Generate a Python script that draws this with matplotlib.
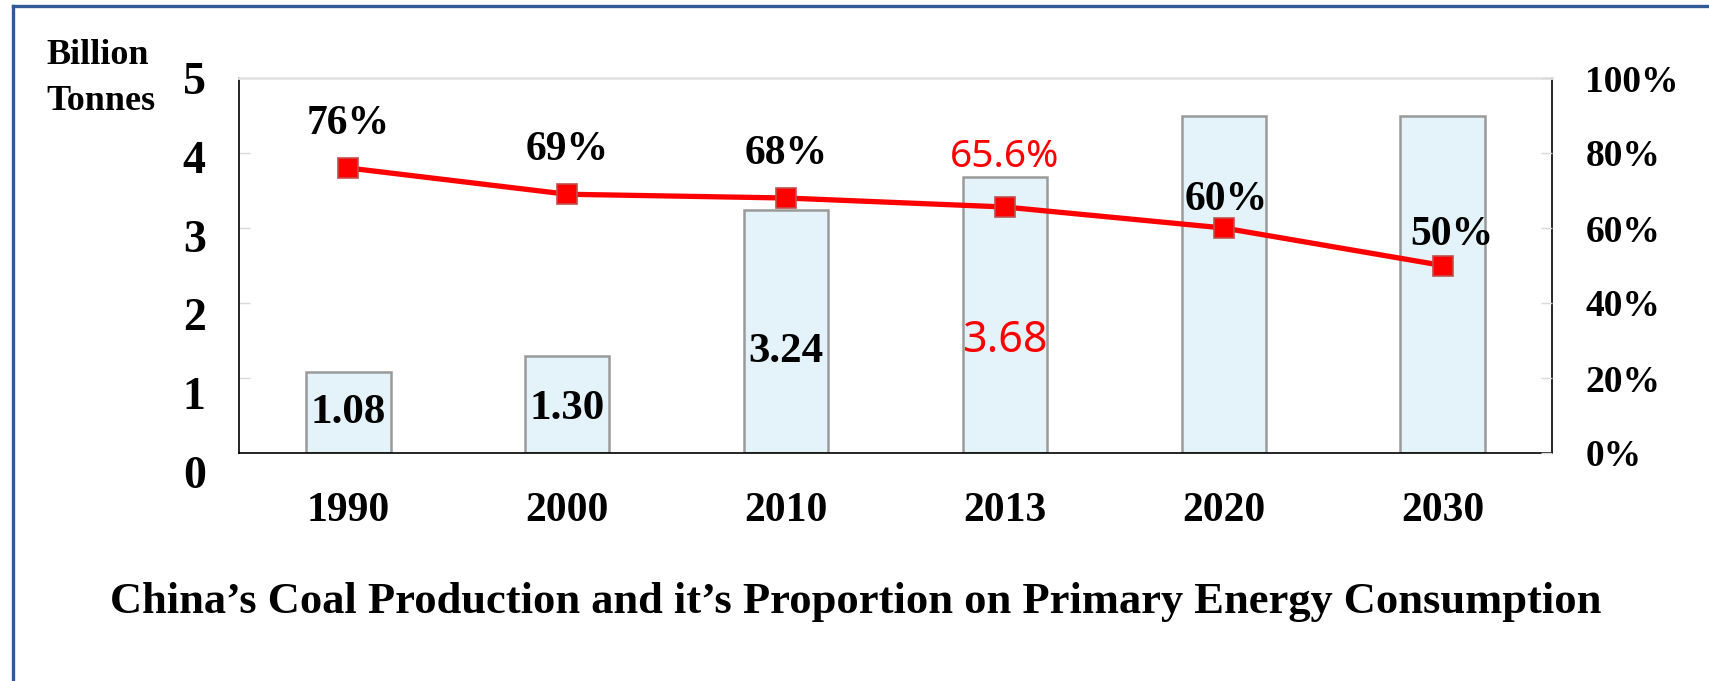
import matplotlib
matplotlib.use("Agg")
import matplotlib.pyplot as plt
from matplotlib.lines import Line2D
from matplotlib.ticker import FuncFormatter

# ---- data ----
years = ["1990", "2000", "2010", "2013", "2020", "2030"]
production = [1.08, 1.30, 3.24, 3.68, 4.5, 4.5]          # billion tonnes
share = [0.76, 0.69, 0.68, 0.656, 0.60, 0.50]           # share of primary energy
bar_texts = ["1.08", "1.30", "3.24", "3.68"]
share_texts = ["76%", "69%", "68%", "65.6%", "60%", "50%"]
left_ticks = [0, 1, 2, 3, 4, 5]
right_ticks = [0, 0.2, 0.4, 0.6, 0.8, 1.0]

# ---- layout / style ----
W, H, DPI = 1709, 681, 100
serif = ["Liberation Serif", "DejaVu Serif"]
sans = ["Noto Sans", "DejaVu Sans"]
highlight = "2013"
bar_label_y = [0.53, 0.59, 1.35, 1.49]          # label centre heights (layout)
share_offsets = [(0, 32), (0, 32), (0, 32), (0, 36), (2, 20), (7, 22)]  # points

fig = plt.figure(figsize=(W / DPI, H / DPI), dpi=DPI)
fig.patch.set_facecolor("white")

# frame lines (left and top)
blue = "#2E5A96"
fig.add_artist(Line2D([13 / W, 13 / W], [0, 1 - 6 / H], color=blue, lw=2.4,
                      transform=fig.transFigure))
fig.add_artist(Line2D([13 / W, 1], [1 - 6 / H, 1 - 6 / H], color=blue, lw=2.4,
                      transform=fig.transFigure))

x0, x1 = 239 / W, 1552 / W
y0, y1 = 1 - 453 / H, 1 - 78 / H
ax = fig.add_axes([x0, y0, x1 - x0, y1 - y0])
ax2 = ax.twinx()

xs = list(range(len(years)))
ax.bar(xs, production, width=0.385, color="#E4F3F9", edgecolor="#9A9A9A",
       linewidth=1.8, zorder=2)
ax.set_xlim(-0.5, len(years) - 0.5)
ax.set_ylim(0, 5)

ax.set_xticks(xs)
ax.set_xticklabels(years, fontfamily=serif, fontweight="bold", fontsize=30)
ax.tick_params(axis="x", length=0, pad=28)
ax.set_yticks([1, 2, 3, 4])
ax.tick_params(axis="y", direction="in", length=8, width=1, color="#D9D9D9",
               labelleft=False)

for s in ["left", "right", "bottom"]:
    ax.spines[s].set_color("black")
    ax.spines[s].set_linewidth(1.2)
ax.spines["top"].set_color("#E3E3E3")
ax.spines["top"].set_linewidth(2)
for s in ax2.spines.values():
    s.set_visible(False)

# line on secondary axis
ax2.set_ylim(0, 1)
ax2.plot(xs, share, color="#FF0000", lw=3.8, marker="s", markersize=14,
         markerfacecolor="#FF0000", markeredgecolor="#C0504D",
         markeredgewidth=1.2, zorder=5)
ax2.set_yticks(right_ticks)
ax2.yaxis.set_major_formatter(FuncFormatter(lambda v, p: f"{v * 100:.0f}%"))
ax2.tick_params(axis="y", direction="in", length=8, width=1, color="#D9D9D9",
                pad=24)
for t in ax2.get_yticklabels():
    t.set_fontfamily(serif)
    t.set_fontweight("bold")
    t.set_fontsize(27)

# left tick labels on a separate invisible axis
lab = fig.add_axes([x0, 1 - 472 / H, 0.001, (472 - 78) / H])
lab.set_ylim(0, 5)
lab.set_yticks(left_ticks)
lab.set_yticklabels([str(v) for v in left_ticks], fontfamily=serif,
                    fontweight="bold", fontsize=33)
lab.tick_params(axis="y", length=0, pad=24)
lab.set_xticks([])
for s in lab.spines.values():
    s.set_visible(False)
lab.patch.set_alpha(0)

# share labels
for i, (v, t) in enumerate(zip(share, share_texts)):
    red = years[i] == highlight
    ax2.annotate(t, (xs[i], v), xytext=share_offsets[i], textcoords="offset points",
                 ha="center", va="center",
                 fontfamily=sans if red else serif,
                 fontweight="normal" if red else "bold",
                 fontsize=28 if red else 30,
                 color="#FF0000" if red else "black", zorder=6)

# bar labels
for i, t in enumerate(bar_texts):
    red = years[i] == highlight
    ax.text(xs[i], bar_label_y[i], t, ha="center", va="center",
            fontfamily=sans if red else serif,
            fontweight="normal" if red else "bold",
            fontsize=31,
            color="#FF0000" if red else "black", zorder=6)

# unit label
fig.text(46 / W, 1 - 56 / H, "Billion", fontfamily=serif, fontweight="bold",
         fontsize=26, ha="left", va="center")
fig.text(46 / W, 1 - 101 / H, "Tonnes", fontfamily=serif, fontweight="bold",
         fontsize=26, ha="left", va="center")

# caption
fig.text(856 / W, 1 - 602 / H,
         "China\u2019s Coal Production and it\u2019s Proportion on Primary Energy Consumption",
         fontfamily=serif, fontweight="bold", fontsize=32, ha="center", va="center")

fig.savefig("out.png", dpi=DPI, facecolor="white")
